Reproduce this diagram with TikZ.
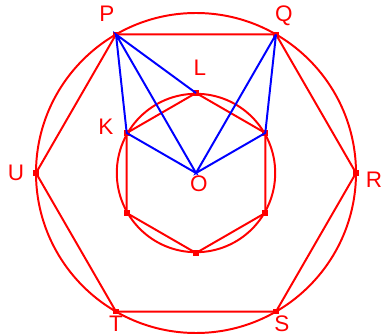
\documentclass[tikz,border=0pt]{standalone}
\usepackage{fontspec}
\setmainfont{Liberation Sans}
\usepackage{tikz}
\usetikzlibrary{calc}
\definecolor{hexred}{HTML}{FF0000}
\definecolor{segblue}{HTML}{0000FF}
\tikzset{redline/.style={draw=hexred,line width=1.4pt,line join=miter},blueline/.style={draw=segblue,line width=1.4pt},vmark/.style={fill=hexred},ptlabel/.style={text=hexred,font=\fontsize{16}{18}\selectfont,inner sep=0pt}}
\begin{document}
\begin{tikzpicture}
\useasboundingbox (-4.9,-4.075) rectangle (4.675,4.325);
\coordinate (O) at (0,0);
\coordinate (R) at (0:4);
\coordinate (Q) at (60:4);
\coordinate (P) at (120:4);
\coordinate (U) at (180:4);
\coordinate (T) at (240:4);
\coordinate (S) at (300:4);
\coordinate (M) at (30:2);
\coordinate (L) at (90:2);
\coordinate (K) at (150:2);
\coordinate (A) at (210:2);
\coordinate (B) at (270:2);
\coordinate (C) at (330:2);
\draw[redline] (O) circle[radius=4];
\draw[redline] (O) circle[radius=1.98];
\draw[redline] (P)--(Q)--(R)--(S)--(T)--(U)--cycle;
\draw[redline] (L)--(K)--(A)--(B)--(C)--(M)--cycle;
\foreach \v in {P,Q,R,S,T,U,L,K,A,B,C,M}{\fill[vmark] ($(\v)+(-.07,-.07)$) rectangle ($(\v)+(.07,.07)$);}
\draw[blueline] (P)--(K)--(O)--(P)--(L);
\draw[blueline] (Q)--(M)--(O)--(Q);
\node[ptlabel] (Plab) at (-2.225,3.975) {P};
\node[ptlabel] (Qlab) at (2.2,3.925) {Q};
\node[ptlabel] (Llab) at (0.1,2.625) {L};
\node[ptlabel] (Klab) at (-2.25,1.15) {K};
\node[ptlabel] (Olab) at (0.075,-0.275) {O};
\node[ptlabel] (Ulab) at (-4.5,0) {U};
\node[ptlabel] (Rlab) at (4.45,-0.175) {R};
\node[ptlabel] (Slab) at (2.15,-3.775) {S};
\node[ptlabel] (Tlab) at (-2.0,-3.775) {T};
\end{tikzpicture}
\end{document}
